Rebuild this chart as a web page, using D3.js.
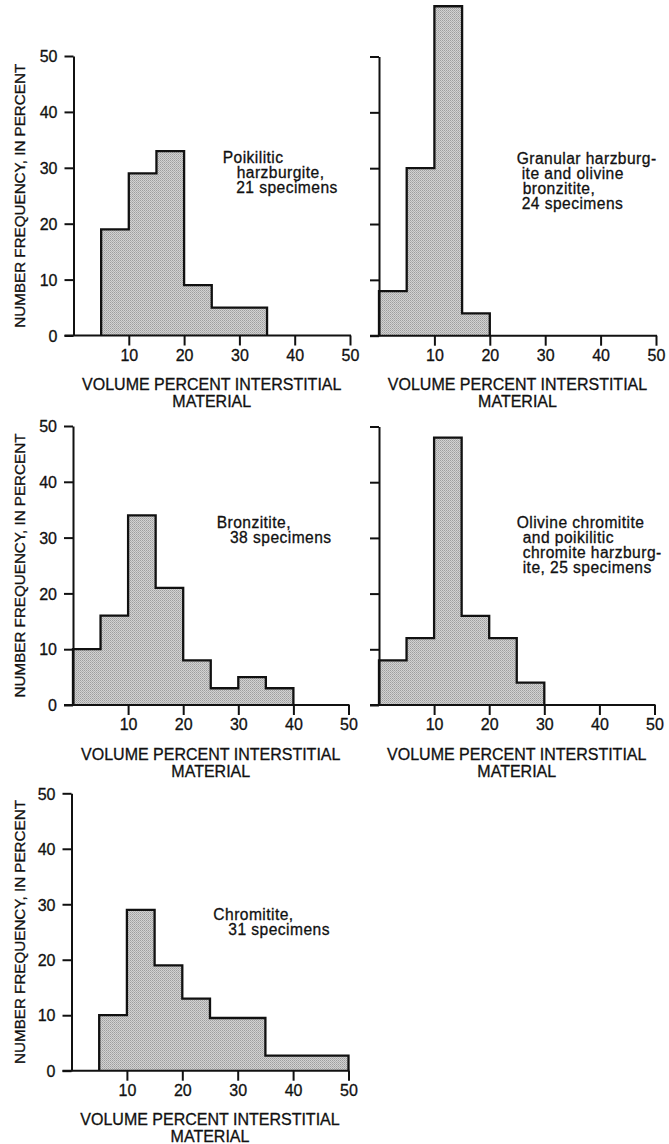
<!DOCTYPE html>
<html>
<head>
<meta charset="utf-8">
<script src="https://cdn.jsdelivr.net/npm/d3@7"></script>
<style>
  html, body { margin: 0; padding: 0; background: #fff; }
  svg { display: block; }
  text { font-family: "Liberation Sans", Arial, sans-serif; fill: #111; stroke: #111; stroke-width: 0.3px; }
</style>
</head>
<body>
<svg id="chart" width="669" height="1144"></svg>
<script>
// Class intervals of volume percent interstitial material (lower bounds, 5 % wide)
const binLower = [0, 5, 10, 15, 20, 25, 30, 35, 40, 45];
const binWidth = 5;

// Number frequency (percent of specimens) per class; null = no specimens
const poikiliticHarzburgite = [null, 19, 29, 33, 9, 5, 5, null, null, null];
const granularHarzburgite   = [8, 30, 59, 4, null, null, null, null, null, null];
const bronzitite            = [10, 16, 34, 21, 8, 3, 5, 3, null, null];
const olivineChromitite     = [8, 12, 48, 16, 12, 4, null, null, null, null];
const chromitite            = [null, 10, 29, 19, 13, 9.5, 9.5, 2.7, 2.7, 2.7];

// Axis ticks and labels
const xTicks = [10, 20, 30, 40, 50];
const yTicks = [0, 10, 20, 30, 40, 50];
const xTitle = ["VOLUME PERCENT INTERSTITIAL", "MATERIAL"];
const yTitle = "NUMBER FREQUENCY, IN PERCENT";

// Legend text for each histogram
const labelsPoikilitic = ["Poikilitic", "harzburgite,", "21 specimens"];
const labelsGranular   = ["Granular harzburg-", "ite and olivine", "bronzitite,", "24 specimens"];
const labelsBronzitite = ["Bronzitite,", "38 specimens"];
const labelsOlivine    = ["Olivine chromitite", "and poikilitic", "chromite harzburg-", "ite, 25 specimens"];
const labelsChromitite = ["Chromitite,", "31 specimens"];

// Panel frames: pixel extents of x = 0..50 and y = 0..50
const panels = [
  { values: poikiliticHarzburgite, labels: labelsPoikilitic, x0: 73.5, x1: 350,   yTop: 56,    yBot: 335.5,  yLabels: true,
    text: { x: 222.7, y: 162.7, indents: [0, 14, 13.5], lh: 15.3 } },
  { values: granularHarzburgite,   labels: labelsGranular,   x0: 379,  x1: 656,   yTop: 56.5,  yBot: 335.7,  yLabels: false,
    text: { x: 516.7, y: 163.5, indents: [0, 5, 6, 5], lh: 15 } },
  { values: bronzitite,            labels: labelsBronzitite, x0: 73,   x1: 348.5, yTop: 426,   yBot: 705,    yLabels: true,
    text: { x: 216.7, y: 528, indents: [0, 13.3], lh: 15 } },
  { values: olivineChromitite,     labels: labelsOlivine,    x0: 379,  x1: 654.5, yTop: 426.5, yBot: 705,    yLabels: false,
    text: { x: 516.7, y: 528, indents: [0, 6, 6, 6], lh: 15 } },
  { values: chromitite,            labels: labelsChromitite, x0: 71.5, x1: 348.5, yTop: 793.3, yBot: 1070.7, yLabels: true,
    text: { x: 213.3, y: 919.5, indents: [0, 15], lh: 15 } }
];

const svg = d3.select("#chart");

// Stippled grey fill used for the histogram bars
const defs = svg.append("defs");
const pat = defs.append("pattern")
  .attr("id", "stipple")
  .attr("width", 2).attr("height", 2)
  .attr("patternUnits", "userSpaceOnUse");
pat.append("rect").attr("width", 2).attr("height", 2).attr("fill", "#d2d2d2");
pat.append("rect").attr("x", 0).attr("y", 0).attr("width", 1).attr("height", 1).attr("fill", "#9e9e9e");
pat.append("rect").attr("x", 1).attr("y", 1).attr("width", 1).attr("height", 1).attr("fill", "#b0b0b0");

const tickLen = 9;

panels.forEach(p => {
  const x = d3.scaleLinear().domain([0, 50]).range([p.x0, p.x1]);
  const y = d3.scaleLinear().domain([0, 50]).range([p.yBot, p.yTop]);
  const g = svg.append("g");

  // Histogram: contiguous occupied classes as a stepped outline
  const bins = binLower.map((lo, i) => ({ lo, hi: lo + binWidth, v: p.values[i] }))
                       .filter(d => d.v !== null);
  const pts = [[bins[0].lo, 0]];
  bins.forEach(d => pts.push([d.lo, d.v]));
  pts.push([bins[bins.length - 1].hi, bins[bins.length - 1].v]);
  pts.push([bins[bins.length - 1].hi, 0]);

  const area = d3.area()
    .x(d => x(d[0])).y0(y(0)).y1(d => y(d[1]))
    .curve(d3.curveStepAfter);
  const line = d3.line()
    .x(d => x(d[0])).y(d => y(d[1]))
    .curve(d3.curveStepAfter);

  g.append("path").attr("d", area(pts)).attr("fill", "url(#stipple)");
  g.append("path").attr("d", line(pts))
    .attr("fill", "none").attr("stroke", "#111")
    .attr("stroke-width", 2.3).attr("stroke-linejoin", "miter");

  // Y axis with left ticks
  const yAxis = d3.axisLeft(y).tickValues(yTicks).tickSize(tickLen).tickSizeOuter(0)
    .tickFormat(p.yLabels ? d3.format("d") : () => "").tickPadding(7);
  const ya = g.append("g").attr("transform", `translate(${x(0)},0)`).call(yAxis);
  ya.select(".domain").attr("stroke", "#111").attr("stroke-width", 2);
  ya.selectAll(".tick line").attr("stroke", "#111").attr("stroke-width", 2);
  ya.selectAll(".tick text").attr("font-size", 16).attr("fill", "#111")
    .attr("font-family", "Liberation Sans, Arial, sans-serif").attr("dy", "0.36em");

  // X axis with downward ticks; baseline extends left to meet the zero tick
  const xAxis = d3.axisBottom(x).tickValues(xTicks).tickSize(10).tickSizeOuter(0).tickPadding(4);
  const xa = g.append("g").attr("transform", `translate(0,${y(0)})`).call(xAxis);
  xa.select(".domain").remove();
  xa.selectAll(".tick line").attr("stroke", "#111").attr("stroke-width", 2);
  xa.selectAll(".tick text").attr("font-size", 16).attr("fill", "#111")
    .attr("font-family", "Liberation Sans, Arial, sans-serif").attr("dy", "0.71em");
  g.append("line")
    .attr("x1", x(0) - tickLen).attr("x2", x(50) + 1)
    .attr("y1", y(0)).attr("y2", y(0))
    .attr("stroke", "#111").attr("stroke-width", 2);

  // X axis title (two lines)
  xTitle.forEach((t, i) => {
    g.append("text")
      .attr("x", x(25)).attr("y", y(0) + 54.5 + i * 17)
      .attr("text-anchor", "middle").attr("font-size", 16)
      .text(t);
  });

  // Y axis title on the left-hand column
  if (p.yLabels) {
    g.append("text")
      .attr("transform", `translate(25,${(y(0) + y(50)) / 2}) rotate(-90)`)
      .attr("text-anchor", "middle").attr("font-size", 15.2)
      .text(yTitle);
  }

  // Rock-type legend
  p.labels.forEach((t, i) => {
    g.append("text")
      .attr("x", p.text.x + p.text.indents[i])
      .attr("y", p.text.y + i * p.text.lh)
      .attr("font-size", 15.6)
      .attr("letter-spacing", 0.45)
      .text(t);
  });
});
</script>
</body>
</html>
